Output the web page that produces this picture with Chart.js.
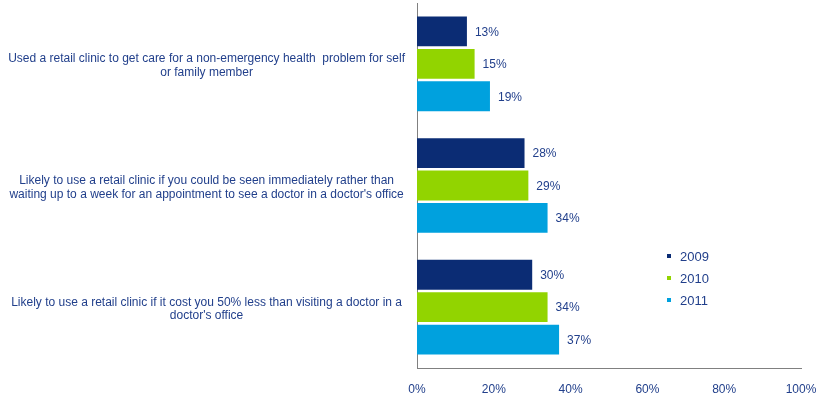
<!DOCTYPE html>
<html>
<head>
<meta charset="utf-8">
<script src="https://cdn.jsdelivr.net/npm/chart.js@4/dist/chart.umd.min.js"></script>
<style>
  html, body { margin: 0; padding: 0; background: #fff; }
  #wrap { width: 818px; height: 399px; position: relative; }
</style>
</head>
<body>
<div id="wrap"><canvas id="c"></canvas></div>
<script>
// Survey statements (wrapped for display)
const categories = [
  ["Used a retail clinic to get care for a non-emergency health  problem for self", "or family member"],
  ["Likely to use a retail clinic if you could be seen immediately rather than", "waiting up to a week for an appointment to see a doctor in a doctor's office"],
  ["Likely to use a retail clinic if it cost you 50% less than visiting a doctor in a", "doctor's office"]
];
const years = ["2009", "2010", "2011"];
const values2009 = [13, 28, 30];
const values2010 = [15, 29, 34];
const values2011 = [19, 34, 37];
const xTicks = [0, 20, 40, 60, 80, 100];

const textColor = "#213F8B";
const colors = ["#0B2C74", "#92D400", "#00A1DE"];
const fontFamily = "'Liberation Sans', Arial, sans-serif";

// Value labels to the right of each bar
const valueLabels = {
  id: "valueLabels",
  afterDatasetsDraw(chart) {
    const ctx = chart.ctx;
    ctx.save();
    ctx.font = "12px " + fontFamily;
    ctx.fillStyle = textColor;
    ctx.textAlign = "left";
    ctx.textBaseline = "middle";
    chart.data.datasets.forEach((ds, i) => {
      chart.getDatasetMeta(i).data.forEach((bar, j) => {
        ctx.fillText(ds.data[j] + "%", bar.x + 8, bar.y + 1);
      });
    });
    ctx.restore();
  }
};

// Small square-marker legend inside the plot area
const squareLegend = {
  id: "squareLegend",
  afterDraw(chart) {
    const ctx = chart.ctx;
    ctx.save();
    ctx.font = "13px " + fontFamily;
    ctx.textAlign = "left";
    ctx.textBaseline = "middle";
    const x0 = 667, y0 = 256, step = 22;
    chart.data.datasets.forEach((ds, i) => {
      const y = y0 + i * step;
      ctx.fillStyle = ds.backgroundColor;
      ctx.fillRect(x0, y - 2, 4, 4);
      ctx.fillStyle = textColor;
      ctx.fillText(ds.label, x0 + 13, y + 1);
    });
    ctx.restore();
  }
};

new Chart(document.getElementById("c"), {
  type: "bar",
  data: {
    labels: categories,
    datasets: [
      { label: years[0], data: values2009, backgroundColor: colors[0] },
      { label: years[1], data: values2010, backgroundColor: colors[1] },
      { label: years[2], data: values2011, backgroundColor: colors[2] }
    ]
  },
  options: {
    indexAxis: "y",
    responsive: true,
    maintainAspectRatio: false,
    animation: false,
    layout: { padding: { top: 3, right: 17, bottom: 3, left: 0 } },
    datasets: { bar: { categoryPercentage: 0.8, barPercentage: 0.92 } },
    plugins: {
      legend: { display: false },
      tooltip: { enabled: false }
    },
    scales: {
      x: {
        min: 0,
        max: 100,
        afterBuildTicks(scale) { scale.ticks = xTicks.map(v => ({ value: v })); },
        afterFit(scale) {
          scale.height = 28;
          scale.paddingLeft = 0;
          scale.paddingRight = 0;
        },
        grid: { display: false, drawTicks: false },
        border: { display: true, color: "#808080", width: 1 },
        ticks: {
          color: textColor,
          font: { family: fontFamily, size: 12 },
          padding: 14,
          callback: v => v + "%"
        }
      },
      y: {
        grid: { display: false, drawTicks: false },
        border: { display: true, color: "#808080", width: 1 },
        afterFit(scale) {
          scale.width = 417;
          scale.paddingTop = 0;
          scale.paddingBottom = 0;
        },
        ticks: {
          color: textColor,
          crossAlign: "center",
          padding: 12,
          labelOffset: 2,
          font: { family: fontFamily, size: 12, lineHeight: 1.15 }
        }
      }
    }
  },
  plugins: [valueLabels, squareLegend]
});
</script>
</body>
</html>
